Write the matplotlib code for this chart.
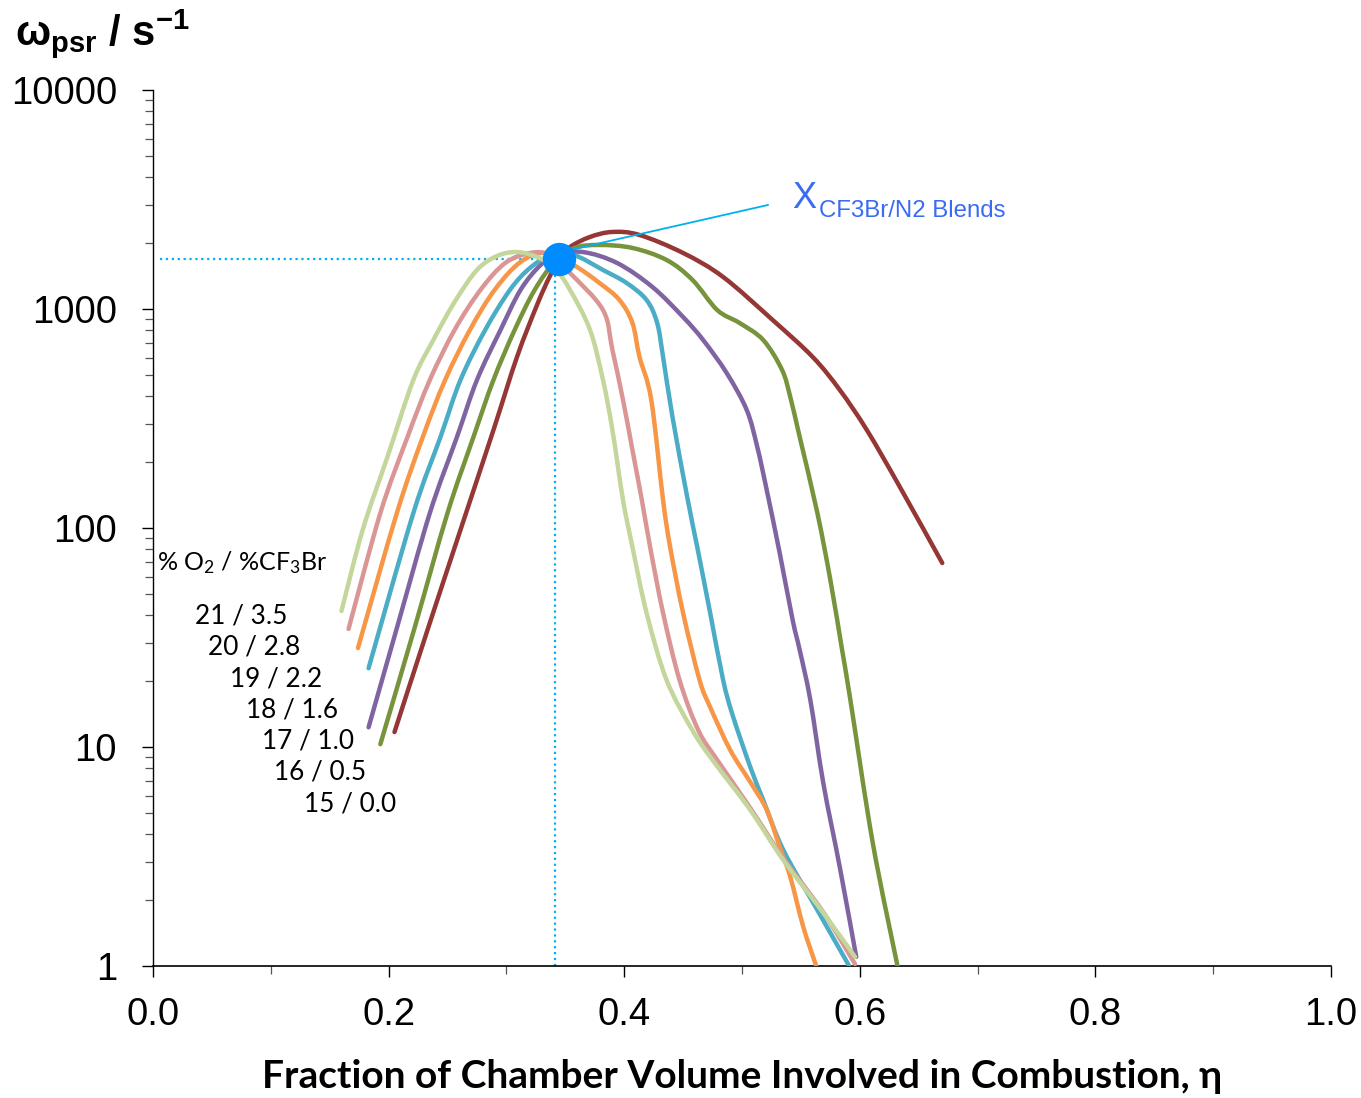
import matplotlib
matplotlib.use("Agg")
import matplotlib.pyplot as plt
import numpy as np
from matplotlib.path import Path
from matplotlib.patches import PathPatch
from matplotlib.ticker import FixedLocator, FixedFormatter, LogLocator, NullFormatter

plt.rcParams["mathtext.default"] = "regular"

# ---- data: fraction of chamber volume (eta) vs omega_psr (1/s) ----
labels = ["15 / 0.0", "16 / 0.5", "17 / 1.0", "18 / 1.6", "19 / 2.2", "20 / 2.8", "21 / 3.5"]
colors = ["#953735", "#77933C", "#8064A2", "#4BACC6", "#F79646", "#D99694", "#C3D69B"]

eta_15 = [0.205, 0.233, 0.261, 0.289, 0.309, 0.326, 0.337, 0.346, 0.354,
          0.371, 0.390, 0.413, 0.450, 0.484, 0.526, 0.560, 0.583, 0.606, 0.634, 0.670]
w_15 = [11.7, 34.2, 98, 280, 604, 1043, 1415, 1710, 1919,
        2133, 2248, 2178, 1802, 1400, 891, 604, 427, 280, 154, 69.2]

eta_16 = [0.193, 0.222, 0.250, 0.272, 0.289, 0.307, 0.324, 0.341, 0.358, 0.379, 0.407, 0.436,
          0.458, 0.479, 0.498, 0.518, 0.534, 0.541, 0.549, 0.564, 0.575, 0.585, 0.592, 0.611, 0.632]
w_16 = [10.3, 34.9, 117, 260, 474, 802, 1222, 1640, 1900, 1960, 1900, 1674,
        1357, 989, 863, 722, 527, 396, 260, 117, 57.9, 27.7, 16.4, 3.65, 1.0]

eta_17 = [0.183, 0.207, 0.235, 0.258, 0.275, 0.295, 0.312, 0.329, 0.343, 0.365, 0.394, 0.424,
          0.450, 0.467, 0.487, 0.504, 0.513, 0.521, 0.532, 0.543, 0.549, 0.558, 0.569, 0.583, 0.597]
w_17 = [12.3, 34.9, 117, 260, 474, 802, 1222, 1588, 1765, 1820, 1622, 1260,
        919, 722, 510, 346, 234, 149, 76.9, 38.0, 27.7, 16.4, 6.85, 2.83, 1.10]

eta_18 = [0.183, 0.221, 0.244, 0.261, 0.282, 0.303, 0.320, 0.337, 0.357, 0.382, 0.402, 0.419,
          0.428, 0.433, 0.441, 0.454, 0.462, 0.473, 0.484, 0.492, 0.507, 0.518, 0.535, 0.564, 0.591]
w_18 = [22.9, 117, 260, 474, 802, 1222, 1539, 1746, 1765, 1507, 1315, 1099,
        863, 604, 321, 134, 81.9, 40.9, 20.2, 14.0, 8.11, 5.73, 3.39, 1.80, 1.0]

eta_19 = [0.174, 0.207, 0.229, 0.248, 0.269, 0.290, 0.312, 0.333, 0.357, 0.379, 0.396, 0.407, 0.413,
          0.423, 0.433, 0.439, 0.450, 0.464, 0.473, 0.490, 0.507, 0.521, 0.532, 0.541, 0.552, 0.563]
w_19 = [28.3, 117, 260, 474, 802, 1222, 1640, 1802, 1588, 1315, 1099, 863, 604,
        384, 134, 81.9, 40.9, 20.2, 15.2, 9.69, 6.92, 5.16, 3.49, 2.55, 1.51, 1.0]

eta_20 = [0.166, 0.193, 0.216, 0.235, 0.256, 0.278, 0.299, 0.320, 0.337, 0.354, 0.382, 0.390,
          0.399, 0.407, 0.415, 0.422, 0.433, 0.447, 0.463, 0.479, 0.507, 0.535, 0.569, 0.596]
w_20 = [34.6, 117, 260, 474, 802, 1222, 1622, 1802, 1765, 1460, 989, 650,
        384, 227, 134, 81.9, 40.9, 20.2, 11.9, 8.72, 5.27, 3.11, 1.76, 1.02]

eta_21 = [0.160, 0.178, 0.199, 0.221, 0.238, 0.256, 0.275, 0.292, 0.309, 0.326, 0.341, 0.354, 0.371,
          0.382, 0.390, 0.399, 0.407, 0.419, 0.436, 0.458, 0.475, 0.507, 0.535, 0.569, 0.596]
w_21 = [41.8, 98, 211, 474, 722, 1076, 1507, 1746, 1820, 1727, 1539, 1222, 802,
        474, 280, 134, 81.9, 40.9, 20.2, 11.9, 8.72, 5.16, 3.05, 1.75, 1.10]

series_eta = [eta_15, eta_16, eta_17, eta_18, eta_19, eta_20, eta_21]
series_w = [w_15, w_16, w_17, w_18, w_19, w_20, w_21]

# critical point for the blends
x_crit = 0.345
w_crit = 1690


def smooth_path(xs, ws):
    """Excel-style smoothed line: Catmull-Rom bezier through the points (log y)."""
    pts = np.column_stack([np.asarray(xs, float), np.log10(ws)])
    n = len(pts)
    verts = [pts[0]]
    codes = [Path.MOVETO]
    for i in range(n - 1):
        p0 = pts[i - 1] if i > 0 else pts[i]
        p1, p2 = pts[i], pts[i + 1]
        p3 = pts[i + 2] if i + 2 < n else pts[i + 1]
        verts += [p1 + (p2 - p0) / 6, p2 - (p3 - p1) / 6, p2]
        codes += [Path.CURVE4] * 3
    v = np.array(verts)
    v[:, 1] = 10 ** v[:, 1]
    return Path(v, codes)


fig = plt.figure(figsize=(13.61, 10.98), dpi=100)
ax = fig.add_axes([153 / 1361, 1 - 966 / 1098, 1178 / 1361, 876 / 1098])

ax.set_yscale("log")
ax.set_xlim(0, 1)
ax.set_ylim(1, 10000)

for eta, w, c in zip(series_eta, series_w, colors):
    ax.add_patch(PathPatch(smooth_path(eta, w), fill=False, edgecolor=c, lw=3.2,
                           capstyle="round", joinstyle="round", zorder=3))

# dotted guide lines to the critical point
ax.plot([0.006, x_crit], [w_crit, w_crit], color="#00B0F0", lw=1.6, ls=":", zorder=2)
ax.plot([0.341, 0.341], [1, w_crit], color="#00B0F0", lw=1.6, ls=":", zorder=2)
ax.plot([x_crit], [w_crit], "o", color="#008BFF", ms=24, mec="none", zorder=5)

# annotation
ax.plot([0.354, 0.522], [1860, 2985], color="#00B0F0", lw=1.3, zorder=4)
ax.text(0.543, 2893, "X", color="#3A6BF5", fontsize=26, family="Liberation Sans",
        ha="left", va="baseline")
ax.text(0.565, 2630, "CF3Br/N2 Blends", color="#3A6BF5", fontsize=17.3,
        family="Liberation Sans", ha="left", va="baseline")

# series labels
ax.text(0.0034, 69.2, "% O$_2$ / %CF$_3$Br", fontsize=18, family="Lato",
        ha="left", va="center")
label_x = [0.128, 0.1027, 0.0925, 0.0789, 0.0654, 0.0467, 0.0357]
label_w = [5.49, 7.69, 10.7, 14.8, 20.4, 28.6, 39.6]
for lx, lw_, lab in zip(label_x, label_w, labels):
    ax.text(lx, lw_, lab, fontsize=18.8, family="Lato", ha="left", va="center")

ax.spines["top"].set_visible(False)
ax.spines["right"].set_visible(False)
ax.spines["left"].set_linewidth(1.0)
ax.spines["bottom"].set_linewidth(1.2)

yt = [1, 10, 100, 1000, 10000]
ax.yaxis.set_major_locator(FixedLocator(yt))
ax.yaxis.set_major_formatter(FixedFormatter([str(v) for v in yt]))
ax.yaxis.set_minor_locator(LogLocator(base=10, subs=range(2, 10)))
ax.yaxis.set_minor_formatter(NullFormatter())

ax.set_xticks([0.0, 0.2, 0.4, 0.6, 0.8, 1.0])
ax.set_xticklabels(["0.0", "0.2", "0.4", "0.6", "0.8", "1.0"])
ax.set_xticks([0.1, 0.3, 0.5, 0.7, 0.9], minor=True)

ax.tick_params(axis="both", which="major", direction="out", length=8, width=1.0,
               labelsize=27.5, colors="black")
ax.tick_params(axis="y", which="major", pad=18)
ax.tick_params(axis="x", which="major", pad=14)
ax.tick_params(axis="both", which="minor", direction="out", length=6, width=0.9, color="#555555")
for t in ax.get_xticklabels() + ax.get_yticklabels():
    t.set_family("Liberation Sans")

ax.set_xlabel("Fraction of Chamber Volume Involved in Combustion, η", fontsize=28,
              fontweight="bold", family=["Lato", "DejaVu Sans"], labelpad=19)

fig.text(15 / 1361, 1 - 45 / 1098, r"$\omega_{psr}$ / s$^{-1}$", fontsize=30,
         fontweight="bold", family="Liberation Sans", ha="left", va="baseline")

fig.savefig("out.png", dpi=100)
